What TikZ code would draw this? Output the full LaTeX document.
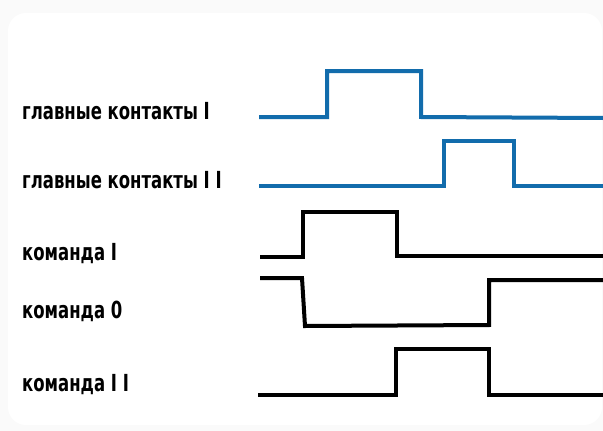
\documentclass[tikz,border=0pt]{standalone}
\usepackage{fontspec}
\newfontfamily\lblfont[FakeStretch=0.78]{DejaVu Sans Condensed Bold}
\definecolor{sigblue}{RGB}{18,108,172}
\tikzstyle{signame} = [anchor=base west, inner sep=0pt, font=\lblfont\fontsize{23.5}{23.5}\selectfont]
\tikzstyle{bluesig} = [line width=4pt, draw=sigblue]
\tikzstyle{blacksig} = [line width=4pt, draw=black]

\begin{document}
\begin{tikzpicture}[x=1pt, y=-1pt]

        % Fondo
        \useasboundingbox (0,0) rectangle (603,431);
        \fill[gray!4] (0,0) rectangle (603,431);
        \fill[white, rounded corners=18pt] (8,13) rectangle (602,425);

        \node (glav1) [signame] at (22,119) {главные контакты I};
        \node (glav2) [signame] at (22,188) {главные контакты I I};
        \node (kom1) [signame] at (22,260) {команда I};
        \node (kom0) [signame] at (22,318) {команда 0};
        \node (kom2) [signame] at (22,391) {команда I I};

        % Сигналы
        \draw [bluesig] (259,117) -- (327,117) -- (327,71) -- (421,71) -- (421,117) -- (603,118);
        \draw [bluesig] (259,186) -- (444,186) -- (444,141) -- (514,141) -- (514,186) -- (603,186);
        \draw [blacksig] (260,257) -- (303,257) -- (303,212) -- (397,212) -- (397,256) -- (603,256);
        \draw [blacksig] (260,278) -- (302,278) -- (305,326) -- (489,325) -- (489,280) -- (603,280);
        \draw [blacksig] (258,395) -- (396,395) -- (396,349) -- (489,349) -- (489,395) -- (603,395);

    \end{tikzpicture}
\end{document}
